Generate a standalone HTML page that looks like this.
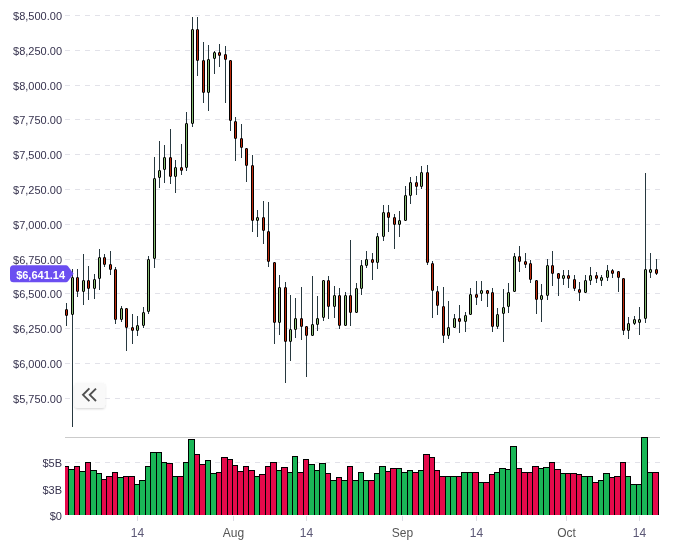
<!DOCTYPE html>
<html><head><meta charset="utf-8"><title>chart</title>
<style>
html,body{margin:0;padding:0;background:#ffffff;}
body{width:676px;height:548px;overflow:hidden;font-family:"Liberation Sans",sans-serif;}
svg{display:block;will-change:transform;}
</style></head><body>
<svg width="676" height="548" viewBox="0 0 676 548">
<line x1="65" y1="15.5" x2="660" y2="15.5" stroke="#e2e2e9" stroke-width="1" stroke-dasharray="5 5"/>
<line x1="65" y1="50.5" x2="660" y2="50.5" stroke="#e2e2e9" stroke-width="1" stroke-dasharray="5 5"/>
<line x1="65" y1="85.5" x2="660" y2="85.5" stroke="#e2e2e9" stroke-width="1" stroke-dasharray="5 5"/>
<line x1="65" y1="119.5" x2="660" y2="119.5" stroke="#e2e2e9" stroke-width="1" stroke-dasharray="5 5"/>
<line x1="65" y1="154.5" x2="660" y2="154.5" stroke="#e2e2e9" stroke-width="1" stroke-dasharray="5 5"/>
<line x1="65" y1="189.5" x2="660" y2="189.5" stroke="#e2e2e9" stroke-width="1" stroke-dasharray="5 5"/>
<line x1="65" y1="224.5" x2="660" y2="224.5" stroke="#e2e2e9" stroke-width="1" stroke-dasharray="5 5"/>
<line x1="65" y1="259.5" x2="660" y2="259.5" stroke="#e2e2e9" stroke-width="1" stroke-dasharray="5 5"/>
<line x1="65" y1="293.5" x2="660" y2="293.5" stroke="#e2e2e9" stroke-width="1" stroke-dasharray="5 5"/>
<line x1="65" y1="328.5" x2="660" y2="328.5" stroke="#e2e2e9" stroke-width="1" stroke-dasharray="5 5"/>
<line x1="65" y1="363.5" x2="660" y2="363.5" stroke="#e2e2e9" stroke-width="1" stroke-dasharray="5 5"/>
<line x1="65" y1="398.5" x2="660" y2="398.5" stroke="#e2e2e9" stroke-width="1" stroke-dasharray="5 5"/>
<line x1="65" y1="462.5" x2="660" y2="462.5" stroke="#e2e2e9" stroke-width="1" stroke-dasharray="5 5"/>
<line x1="65" y1="437.5" x2="660" y2="437.5" stroke="#cbcbcb" stroke-width="1"/>
<g font-family="Liberation Sans, sans-serif" font-size="11" fill="#36324e" text-anchor="end">
<text x="62" y="20">$8,500.00</text>
<text x="62" y="55">$8,250.00</text>
<text x="62" y="90">$8,000.00</text>
<text x="62" y="124">$7,750.00</text>
<text x="62" y="159">$7,500.00</text>
<text x="62" y="194">$7,250.00</text>
<text x="62" y="229">$7,000.00</text>
<text x="62" y="264">$6,750.00</text>
<text x="62" y="298">$6,500.00</text>
<text x="62" y="333">$6,250.00</text>
<text x="62" y="368">$6,000.00</text>
<text x="62" y="403">$5,750.00</text>
<text x="62" y="467">$5B</text>
<text x="62" y="494">$3B</text>
<text x="62" y="520">$0</text>
</g>
<rect x="137" y="516" width="1" height="5" fill="#dcdce4"/>
<rect x="233" y="516" width="1" height="5" fill="#dcdce4"/>
<rect x="306" y="516" width="1" height="5" fill="#dcdce4"/>
<rect x="402" y="516" width="1" height="5" fill="#dcdce4"/>
<rect x="476" y="516" width="1" height="5" fill="#dcdce4"/>
<rect x="566" y="516" width="1" height="5" fill="#dcdce4"/>
<rect x="639" y="516" width="1" height="5" fill="#dcdce4"/>
<g font-family="Liberation Sans, sans-serif" font-size="12" text-anchor="middle">
<text x="137.5" y="537" fill="#5b5775">14</text>
<text x="233.5" y="537" fill="#555555">Aug</text>
<text x="306.5" y="537" fill="#5b5775">14</text>
<text x="402.5" y="537" fill="#555555">Sep</text>
<text x="476.5" y="537" fill="#5b5775">14</text>
<text x="566.5" y="537" fill="#555555">Oct</text>
<text x="639.5" y="537" fill="#5b5775">14</text>
</g>
<g shape-rendering="crispEdges">
<rect x="65" y="466" width="4" height="49" fill="#000000"/>
<rect x="65" y="467" width="3" height="48" fill="#e50a4b"/>
<rect x="68" y="469" width="7" height="46" fill="#000000"/>
<rect x="69" y="470" width="5" height="45" fill="#1ab757"/>
<rect x="74" y="466" width="6" height="49" fill="#000000"/>
<rect x="75" y="467" width="4" height="48" fill="#e50a4b"/>
<rect x="79" y="471" width="7" height="44" fill="#000000"/>
<rect x="80" y="472" width="5" height="43" fill="#1ab757"/>
<rect x="85" y="462" width="6" height="53" fill="#000000"/>
<rect x="86" y="463" width="4" height="52" fill="#e50a4b"/>
<rect x="90" y="470" width="7" height="45" fill="#000000"/>
<rect x="91" y="471" width="5" height="44" fill="#1ab757"/>
<rect x="96" y="473" width="6" height="42" fill="#000000"/>
<rect x="97" y="474" width="4" height="41" fill="#1ab757"/>
<rect x="101" y="479" width="6" height="36" fill="#000000"/>
<rect x="102" y="480" width="4" height="35" fill="#e50a4b"/>
<rect x="106" y="476" width="7" height="39" fill="#000000"/>
<rect x="107" y="477" width="5" height="38" fill="#e50a4b"/>
<rect x="112" y="472" width="6" height="43" fill="#000000"/>
<rect x="113" y="473" width="4" height="42" fill="#e50a4b"/>
<rect x="117" y="477" width="7" height="38" fill="#000000"/>
<rect x="118" y="478" width="5" height="37" fill="#1ab757"/>
<rect x="123" y="476" width="6" height="39" fill="#000000"/>
<rect x="124" y="477" width="4" height="38" fill="#e50a4b"/>
<rect x="128" y="476" width="7" height="39" fill="#000000"/>
<rect x="129" y="477" width="5" height="38" fill="#e50a4b"/>
<rect x="134" y="484" width="6" height="31" fill="#000000"/>
<rect x="135" y="485" width="4" height="30" fill="#1ab757"/>
<rect x="139" y="480" width="7" height="35" fill="#000000"/>
<rect x="140" y="481" width="5" height="34" fill="#1ab757"/>
<rect x="145" y="466" width="6" height="49" fill="#000000"/>
<rect x="146" y="467" width="4" height="48" fill="#1ab757"/>
<rect x="150" y="452" width="7" height="63" fill="#000000"/>
<rect x="151" y="453" width="5" height="62" fill="#1ab757"/>
<rect x="156" y="452" width="6" height="63" fill="#000000"/>
<rect x="157" y="453" width="4" height="62" fill="#1ab757"/>
<rect x="161" y="462" width="6" height="53" fill="#000000"/>
<rect x="162" y="463" width="4" height="52" fill="#1ab757"/>
<rect x="166" y="463" width="7" height="52" fill="#000000"/>
<rect x="167" y="464" width="5" height="51" fill="#e50a4b"/>
<rect x="172" y="476" width="6" height="39" fill="#000000"/>
<rect x="173" y="477" width="4" height="38" fill="#1ab757"/>
<rect x="177" y="476" width="7" height="39" fill="#000000"/>
<rect x="178" y="477" width="5" height="38" fill="#e50a4b"/>
<rect x="183" y="462" width="6" height="53" fill="#000000"/>
<rect x="184" y="463" width="4" height="52" fill="#1ab757"/>
<rect x="188" y="439" width="7" height="76" fill="#000000"/>
<rect x="189" y="440" width="5" height="75" fill="#1ab757"/>
<rect x="194" y="454" width="6" height="61" fill="#000000"/>
<rect x="195" y="455" width="4" height="60" fill="#e50a4b"/>
<rect x="199" y="464" width="7" height="51" fill="#000000"/>
<rect x="200" y="465" width="5" height="50" fill="#e50a4b"/>
<rect x="205" y="460" width="6" height="55" fill="#000000"/>
<rect x="206" y="461" width="4" height="54" fill="#1ab757"/>
<rect x="210" y="473" width="7" height="42" fill="#000000"/>
<rect x="211" y="474" width="5" height="41" fill="#1ab757"/>
<rect x="216" y="472" width="6" height="43" fill="#000000"/>
<rect x="217" y="473" width="4" height="42" fill="#e50a4b"/>
<rect x="221" y="457" width="7" height="58" fill="#000000"/>
<rect x="222" y="458" width="5" height="57" fill="#e50a4b"/>
<rect x="227" y="459" width="6" height="56" fill="#000000"/>
<rect x="228" y="460" width="4" height="55" fill="#e50a4b"/>
<rect x="232" y="465" width="6" height="50" fill="#000000"/>
<rect x="233" y="466" width="4" height="49" fill="#e50a4b"/>
<rect x="237" y="471" width="7" height="44" fill="#000000"/>
<rect x="238" y="472" width="5" height="43" fill="#e50a4b"/>
<rect x="243" y="466" width="6" height="49" fill="#000000"/>
<rect x="244" y="467" width="4" height="48" fill="#e50a4b"/>
<rect x="248" y="470" width="7" height="45" fill="#000000"/>
<rect x="249" y="471" width="5" height="44" fill="#e50a4b"/>
<rect x="254" y="476" width="6" height="39" fill="#000000"/>
<rect x="255" y="477" width="4" height="38" fill="#1ab757"/>
<rect x="259" y="474" width="7" height="41" fill="#000000"/>
<rect x="260" y="475" width="5" height="40" fill="#e50a4b"/>
<rect x="265" y="466" width="6" height="49" fill="#000000"/>
<rect x="266" y="467" width="4" height="48" fill="#e50a4b"/>
<rect x="270" y="462" width="7" height="53" fill="#000000"/>
<rect x="271" y="463" width="5" height="52" fill="#e50a4b"/>
<rect x="276" y="470" width="6" height="45" fill="#000000"/>
<rect x="277" y="471" width="4" height="44" fill="#1ab757"/>
<rect x="281" y="467" width="7" height="48" fill="#000000"/>
<rect x="282" y="468" width="5" height="47" fill="#e50a4b"/>
<rect x="287" y="472" width="6" height="43" fill="#000000"/>
<rect x="288" y="473" width="4" height="42" fill="#1ab757"/>
<rect x="292" y="456" width="6" height="59" fill="#000000"/>
<rect x="293" y="457" width="4" height="58" fill="#1ab757"/>
<rect x="297" y="472" width="7" height="43" fill="#000000"/>
<rect x="298" y="473" width="5" height="42" fill="#e50a4b"/>
<rect x="303" y="459" width="6" height="56" fill="#000000"/>
<rect x="304" y="460" width="4" height="55" fill="#e50a4b"/>
<rect x="308" y="464" width="7" height="51" fill="#000000"/>
<rect x="309" y="465" width="5" height="50" fill="#1ab757"/>
<rect x="314" y="470" width="6" height="45" fill="#000000"/>
<rect x="315" y="471" width="4" height="44" fill="#1ab757"/>
<rect x="319" y="463" width="7" height="52" fill="#000000"/>
<rect x="320" y="464" width="5" height="51" fill="#1ab757"/>
<rect x="325" y="473" width="6" height="42" fill="#000000"/>
<rect x="326" y="474" width="4" height="41" fill="#e50a4b"/>
<rect x="330" y="480" width="7" height="35" fill="#000000"/>
<rect x="331" y="481" width="5" height="34" fill="#1ab757"/>
<rect x="336" y="477" width="6" height="38" fill="#000000"/>
<rect x="337" y="478" width="4" height="37" fill="#e50a4b"/>
<rect x="341" y="480" width="7" height="35" fill="#000000"/>
<rect x="342" y="481" width="5" height="34" fill="#1ab757"/>
<rect x="347" y="466" width="6" height="49" fill="#000000"/>
<rect x="348" y="467" width="4" height="48" fill="#e50a4b"/>
<rect x="352" y="480" width="7" height="35" fill="#000000"/>
<rect x="353" y="481" width="5" height="34" fill="#1ab757"/>
<rect x="358" y="472" width="6" height="43" fill="#000000"/>
<rect x="359" y="473" width="4" height="42" fill="#1ab757"/>
<rect x="363" y="480" width="6" height="35" fill="#000000"/>
<rect x="364" y="481" width="4" height="34" fill="#1ab757"/>
<rect x="368" y="480" width="7" height="35" fill="#000000"/>
<rect x="369" y="481" width="5" height="34" fill="#e50a4b"/>
<rect x="374" y="473" width="6" height="42" fill="#000000"/>
<rect x="375" y="474" width="4" height="41" fill="#1ab757"/>
<rect x="379" y="466" width="7" height="49" fill="#000000"/>
<rect x="380" y="467" width="5" height="48" fill="#1ab757"/>
<rect x="385" y="471" width="6" height="44" fill="#000000"/>
<rect x="386" y="472" width="4" height="43" fill="#e50a4b"/>
<rect x="390" y="468" width="7" height="47" fill="#000000"/>
<rect x="391" y="469" width="5" height="46" fill="#e50a4b"/>
<rect x="396" y="468" width="6" height="47" fill="#000000"/>
<rect x="397" y="469" width="4" height="46" fill="#1ab757"/>
<rect x="401" y="472" width="7" height="43" fill="#000000"/>
<rect x="402" y="473" width="5" height="42" fill="#1ab757"/>
<rect x="407" y="470" width="6" height="45" fill="#000000"/>
<rect x="408" y="471" width="4" height="44" fill="#1ab757"/>
<rect x="412" y="472" width="7" height="43" fill="#000000"/>
<rect x="413" y="473" width="5" height="42" fill="#e50a4b"/>
<rect x="418" y="470" width="6" height="45" fill="#000000"/>
<rect x="419" y="471" width="4" height="44" fill="#1ab757"/>
<rect x="423" y="454" width="7" height="61" fill="#000000"/>
<rect x="424" y="455" width="5" height="60" fill="#e50a4b"/>
<rect x="429" y="457" width="6" height="58" fill="#000000"/>
<rect x="430" y="458" width="4" height="57" fill="#e50a4b"/>
<rect x="434" y="470" width="6" height="45" fill="#000000"/>
<rect x="435" y="471" width="4" height="44" fill="#e50a4b"/>
<rect x="439" y="476" width="7" height="39" fill="#000000"/>
<rect x="440" y="477" width="5" height="38" fill="#e50a4b"/>
<rect x="445" y="476" width="6" height="39" fill="#000000"/>
<rect x="446" y="477" width="4" height="38" fill="#1ab757"/>
<rect x="450" y="476" width="7" height="39" fill="#000000"/>
<rect x="451" y="477" width="5" height="38" fill="#1ab757"/>
<rect x="456" y="476" width="6" height="39" fill="#000000"/>
<rect x="457" y="477" width="4" height="38" fill="#e50a4b"/>
<rect x="461" y="472" width="7" height="43" fill="#000000"/>
<rect x="462" y="473" width="5" height="42" fill="#1ab757"/>
<rect x="467" y="472" width="6" height="43" fill="#000000"/>
<rect x="468" y="473" width="4" height="42" fill="#1ab757"/>
<rect x="472" y="472" width="7" height="43" fill="#000000"/>
<rect x="473" y="473" width="5" height="42" fill="#e50a4b"/>
<rect x="478" y="482" width="6" height="33" fill="#000000"/>
<rect x="479" y="483" width="4" height="32" fill="#1ab757"/>
<rect x="483" y="482" width="7" height="33" fill="#000000"/>
<rect x="484" y="483" width="5" height="32" fill="#e50a4b"/>
<rect x="489" y="474" width="6" height="41" fill="#000000"/>
<rect x="490" y="475" width="4" height="40" fill="#e50a4b"/>
<rect x="494" y="472" width="6" height="43" fill="#000000"/>
<rect x="495" y="473" width="4" height="42" fill="#1ab757"/>
<rect x="499" y="468" width="7" height="47" fill="#000000"/>
<rect x="500" y="469" width="5" height="46" fill="#1ab757"/>
<rect x="505" y="469" width="6" height="46" fill="#000000"/>
<rect x="506" y="470" width="4" height="45" fill="#1ab757"/>
<rect x="510" y="446" width="7" height="69" fill="#000000"/>
<rect x="511" y="447" width="5" height="68" fill="#1ab757"/>
<rect x="516" y="468" width="6" height="47" fill="#000000"/>
<rect x="517" y="469" width="4" height="46" fill="#e50a4b"/>
<rect x="521" y="472" width="7" height="43" fill="#000000"/>
<rect x="522" y="473" width="5" height="42" fill="#e50a4b"/>
<rect x="527" y="472" width="6" height="43" fill="#000000"/>
<rect x="528" y="473" width="4" height="42" fill="#e50a4b"/>
<rect x="532" y="466" width="7" height="49" fill="#000000"/>
<rect x="533" y="467" width="5" height="48" fill="#e50a4b"/>
<rect x="538" y="468" width="6" height="47" fill="#000000"/>
<rect x="539" y="469" width="4" height="46" fill="#1ab757"/>
<rect x="543" y="467" width="7" height="48" fill="#000000"/>
<rect x="544" y="468" width="5" height="47" fill="#1ab757"/>
<rect x="549" y="462" width="6" height="53" fill="#000000"/>
<rect x="550" y="463" width="4" height="52" fill="#e50a4b"/>
<rect x="554" y="469" width="7" height="46" fill="#000000"/>
<rect x="555" y="470" width="5" height="45" fill="#e50a4b"/>
<rect x="560" y="473" width="6" height="42" fill="#000000"/>
<rect x="561" y="474" width="4" height="41" fill="#1ab757"/>
<rect x="565" y="473" width="6" height="42" fill="#000000"/>
<rect x="566" y="474" width="4" height="41" fill="#e50a4b"/>
<rect x="570" y="473" width="7" height="42" fill="#000000"/>
<rect x="571" y="474" width="5" height="41" fill="#e50a4b"/>
<rect x="576" y="474" width="6" height="41" fill="#000000"/>
<rect x="577" y="475" width="4" height="40" fill="#e50a4b"/>
<rect x="581" y="476" width="7" height="39" fill="#000000"/>
<rect x="582" y="477" width="5" height="38" fill="#1ab757"/>
<rect x="587" y="476" width="6" height="39" fill="#000000"/>
<rect x="588" y="477" width="4" height="38" fill="#1ab757"/>
<rect x="592" y="482" width="7" height="33" fill="#000000"/>
<rect x="593" y="483" width="5" height="32" fill="#e50a4b"/>
<rect x="598" y="480" width="6" height="35" fill="#000000"/>
<rect x="599" y="481" width="4" height="34" fill="#1ab757"/>
<rect x="603" y="473" width="7" height="42" fill="#000000"/>
<rect x="604" y="474" width="5" height="41" fill="#1ab757"/>
<rect x="609" y="477" width="6" height="38" fill="#000000"/>
<rect x="610" y="478" width="4" height="37" fill="#e50a4b"/>
<rect x="614" y="476" width="7" height="39" fill="#000000"/>
<rect x="615" y="477" width="5" height="38" fill="#e50a4b"/>
<rect x="620" y="462" width="6" height="53" fill="#000000"/>
<rect x="621" y="463" width="4" height="52" fill="#e50a4b"/>
<rect x="625" y="476" width="6" height="39" fill="#000000"/>
<rect x="626" y="477" width="4" height="38" fill="#1ab757"/>
<rect x="630" y="484" width="7" height="31" fill="#000000"/>
<rect x="631" y="485" width="5" height="30" fill="#1ab757"/>
<rect x="636" y="484" width="6" height="31" fill="#000000"/>
<rect x="637" y="485" width="4" height="30" fill="#1ab757"/>
<rect x="641" y="437" width="7" height="78" fill="#000000"/>
<rect x="642" y="438" width="5" height="77" fill="#1ab757"/>
<rect x="647" y="472" width="6" height="43" fill="#000000"/>
<rect x="648" y="473" width="4" height="42" fill="#1ab757"/>
<rect x="652" y="472" width="7" height="43" fill="#000000"/>
<rect x="653" y="473" width="5" height="42" fill="#e50a4b"/>
</g>
<g>
<rect x="66" y="303" width="1" height="23" fill="#27383f"/>
<rect x="65.5" y="309.5" width="2" height="6" rx="0.4" fill="#bc290a" stroke="#000000" stroke-width="1"/>
<rect x="72" y="269" width="1" height="158" fill="#27383f"/>
<rect x="71.5" y="277.5" width="2" height="37" rx="0.4" fill="#86bc72" stroke="#000000" stroke-width="1"/>
<rect x="77" y="269" width="1" height="28" fill="#27383f"/>
<rect x="76.5" y="277.5" width="2" height="14" rx="0.4" fill="#bc290a" stroke="#000000" stroke-width="1"/>
<rect x="83" y="254" width="1" height="51" fill="#27383f"/>
<rect x="82.5" y="280.5" width="2" height="11" rx="0.4" fill="#86bc72" stroke="#000000" stroke-width="1"/>
<rect x="88" y="266" width="1" height="34" fill="#27383f"/>
<rect x="87.5" y="280.5" width="2" height="8" rx="0.4" fill="#bc290a" stroke="#000000" stroke-width="1"/>
<rect x="94" y="274" width="1" height="25" fill="#27383f"/>
<rect x="93.5" y="279.5" width="2" height="9" rx="0.4" fill="#86bc72" stroke="#000000" stroke-width="1"/>
<rect x="99" y="249" width="1" height="41" fill="#27383f"/>
<rect x="98.5" y="257.5" width="2" height="21" rx="0.4" fill="#86bc72" stroke="#000000" stroke-width="1"/>
<rect x="104" y="254" width="1" height="13" fill="#27383f"/>
<rect x="103.5" y="257.5" width="2" height="7" rx="0.4" fill="#bc290a" stroke="#000000" stroke-width="1"/>
<rect x="110" y="251" width="1" height="24" fill="#27383f"/>
<rect x="109.5" y="264.5" width="2" height="5" rx="0.4" fill="#bc290a" stroke="#000000" stroke-width="1"/>
<rect x="115" y="267" width="1" height="57" fill="#27383f"/>
<rect x="114.5" y="269.5" width="2" height="50" rx="0.4" fill="#bc290a" stroke="#000000" stroke-width="1"/>
<rect x="121" y="306" width="1" height="16" fill="#27383f"/>
<rect x="120.5" y="308.5" width="2" height="11" rx="0.4" fill="#86bc72" stroke="#000000" stroke-width="1"/>
<rect x="126" y="308" width="1" height="43" fill="#27383f"/>
<rect x="125.5" y="308.5" width="2" height="19" rx="0.4" fill="#bc290a" stroke="#000000" stroke-width="1"/>
<rect x="132" y="314" width="1" height="30" fill="#27383f"/>
<rect x="131.5" y="327.5" width="2" height="3" rx="0.4" fill="#bc290a" stroke="#000000" stroke-width="1"/>
<rect x="137" y="316" width="1" height="20" fill="#27383f"/>
<rect x="136.5" y="325.5" width="2" height="5" rx="0.4" fill="#86bc72" stroke="#000000" stroke-width="1"/>
<rect x="143" y="307" width="1" height="21" fill="#27383f"/>
<rect x="142.5" y="312.5" width="2" height="13" rx="0.4" fill="#86bc72" stroke="#000000" stroke-width="1"/>
<rect x="148" y="256" width="1" height="58" fill="#27383f"/>
<rect x="147.5" y="259.5" width="2" height="52" rx="0.4" fill="#86bc72" stroke="#000000" stroke-width="1"/>
<rect x="154" y="157" width="1" height="111" fill="#27383f"/>
<rect x="153.5" y="178.5" width="2" height="80" rx="0.4" fill="#86bc72" stroke="#000000" stroke-width="1"/>
<rect x="159" y="141" width="1" height="47" fill="#27383f"/>
<rect x="158.5" y="170.5" width="2" height="7" rx="0.4" fill="#86bc72" stroke="#000000" stroke-width="1"/>
<rect x="164" y="145" width="1" height="38" fill="#27383f"/>
<rect x="163.5" y="157.5" width="2" height="12" rx="0.4" fill="#86bc72" stroke="#000000" stroke-width="1"/>
<rect x="170" y="129" width="1" height="55" fill="#27383f"/>
<rect x="169.5" y="157.5" width="2" height="19" rx="0.4" fill="#bc290a" stroke="#000000" stroke-width="1"/>
<rect x="175" y="160" width="1" height="33" fill="#27383f"/>
<rect x="174.5" y="167.5" width="2" height="9" rx="0.4" fill="#86bc72" stroke="#000000" stroke-width="1"/>
<rect x="181" y="144" width="1" height="31" fill="#27383f"/>
<rect x="180.5" y="167.5" width="2" height="3" rx="0.4" fill="#bc290a" stroke="#000000" stroke-width="1"/>
<rect x="186" y="112" width="1" height="59" fill="#27383f"/>
<rect x="185.5" y="123.5" width="2" height="44" rx="0.4" fill="#86bc72" stroke="#000000" stroke-width="1"/>
<rect x="192" y="17" width="1" height="110" fill="#27383f"/>
<rect x="191.5" y="29.5" width="2" height="94" rx="0.4" fill="#86bc72" stroke="#000000" stroke-width="1"/>
<rect x="197" y="17" width="1" height="59" fill="#27383f"/>
<rect x="196.5" y="29.5" width="2" height="31" rx="0.4" fill="#bc290a" stroke="#000000" stroke-width="1"/>
<rect x="203" y="42" width="1" height="61" fill="#27383f"/>
<rect x="202.5" y="60.5" width="2" height="32" rx="0.4" fill="#bc290a" stroke="#000000" stroke-width="1"/>
<rect x="208" y="45" width="1" height="66" fill="#27383f"/>
<rect x="207.5" y="59.5" width="2" height="33" rx="0.4" fill="#86bc72" stroke="#000000" stroke-width="1"/>
<rect x="214" y="51" width="1" height="23" fill="#27383f"/>
<rect x="213.5" y="52.5" width="2" height="6" rx="0.4" fill="#86bc72" stroke="#000000" stroke-width="1"/>
<rect x="219" y="44" width="1" height="23" fill="#27383f"/>
<rect x="218.5" y="52.5" width="2" height="3" rx="0.4" fill="#bc290a" stroke="#000000" stroke-width="1"/>
<rect x="225" y="46" width="1" height="57" fill="#27383f"/>
<rect x="224.5" y="54.5" width="2" height="5" rx="0.4" fill="#bc290a" stroke="#000000" stroke-width="1"/>
<rect x="230" y="60" width="1" height="71" fill="#27383f"/>
<rect x="229.5" y="60.5" width="2" height="60" rx="0.4" fill="#bc290a" stroke="#000000" stroke-width="1"/>
<rect x="235" y="117" width="1" height="44" fill="#27383f"/>
<rect x="234.5" y="121.5" width="2" height="17" rx="0.4" fill="#bc290a" stroke="#000000" stroke-width="1"/>
<rect x="241" y="124" width="1" height="34" fill="#27383f"/>
<rect x="240.5" y="138.5" width="2" height="9" rx="0.4" fill="#bc290a" stroke="#000000" stroke-width="1"/>
<rect x="246" y="148" width="1" height="34" fill="#27383f"/>
<rect x="245.5" y="148.5" width="2" height="17" rx="0.4" fill="#bc290a" stroke="#000000" stroke-width="1"/>
<rect x="252" y="155" width="1" height="77" fill="#27383f"/>
<rect x="251.5" y="165.5" width="2" height="55" rx="0.4" fill="#bc290a" stroke="#000000" stroke-width="1"/>
<rect x="257" y="210" width="1" height="27" fill="#27383f"/>
<rect x="256.5" y="217.5" width="2" height="3" rx="0.4" fill="#86bc72" stroke="#000000" stroke-width="1"/>
<rect x="263" y="201" width="1" height="43" fill="#27383f"/>
<rect x="262.5" y="217.5" width="2" height="13" rx="0.4" fill="#bc290a" stroke="#000000" stroke-width="1"/>
<rect x="268" y="202" width="1" height="65" fill="#27383f"/>
<rect x="267.5" y="231.5" width="2" height="30" rx="0.4" fill="#bc290a" stroke="#000000" stroke-width="1"/>
<rect x="274" y="262" width="1" height="82" fill="#27383f"/>
<rect x="273.5" y="262.5" width="2" height="60" rx="0.4" fill="#bc290a" stroke="#000000" stroke-width="1"/>
<rect x="279" y="275" width="1" height="60" fill="#27383f"/>
<rect x="278.5" y="287.5" width="2" height="35" rx="0.4" fill="#86bc72" stroke="#000000" stroke-width="1"/>
<rect x="285" y="282" width="1" height="101" fill="#27383f"/>
<rect x="284.5" y="287.5" width="2" height="54" rx="0.4" fill="#bc290a" stroke="#000000" stroke-width="1"/>
<rect x="290" y="295" width="1" height="66" fill="#27383f"/>
<rect x="289.5" y="329.5" width="2" height="12" rx="0.4" fill="#86bc72" stroke="#000000" stroke-width="1"/>
<rect x="295" y="298" width="1" height="40" fill="#27383f"/>
<rect x="294.5" y="318.5" width="2" height="11" rx="0.4" fill="#86bc72" stroke="#000000" stroke-width="1"/>
<rect x="301" y="287" width="1" height="53" fill="#27383f"/>
<rect x="300.5" y="318.5" width="2" height="8" rx="0.4" fill="#bc290a" stroke="#000000" stroke-width="1"/>
<rect x="306" y="326" width="1" height="51" fill="#27383f"/>
<rect x="305.5" y="326.5" width="2" height="9" rx="0.4" fill="#bc290a" stroke="#000000" stroke-width="1"/>
<rect x="312" y="276" width="1" height="60" fill="#27383f"/>
<rect x="311.5" y="324.5" width="2" height="11" rx="0.4" fill="#86bc72" stroke="#000000" stroke-width="1"/>
<rect x="317" y="296" width="1" height="35" fill="#27383f"/>
<rect x="316.5" y="318.5" width="2" height="6" rx="0.4" fill="#86bc72" stroke="#000000" stroke-width="1"/>
<rect x="323" y="280" width="1" height="41" fill="#27383f"/>
<rect x="322.5" y="280.5" width="2" height="37" rx="0.4" fill="#86bc72" stroke="#000000" stroke-width="1"/>
<rect x="328" y="276" width="1" height="43" fill="#27383f"/>
<rect x="327.5" y="280.5" width="2" height="26" rx="0.4" fill="#bc290a" stroke="#000000" stroke-width="1"/>
<rect x="334" y="286" width="1" height="32" fill="#27383f"/>
<rect x="333.5" y="295.5" width="2" height="11" rx="0.4" fill="#86bc72" stroke="#000000" stroke-width="1"/>
<rect x="339" y="288" width="1" height="41" fill="#27383f"/>
<rect x="338.5" y="295.5" width="2" height="30" rx="0.4" fill="#bc290a" stroke="#000000" stroke-width="1"/>
<rect x="345" y="292" width="1" height="34" fill="#27383f"/>
<rect x="344.5" y="295.5" width="2" height="30" rx="0.4" fill="#86bc72" stroke="#000000" stroke-width="1"/>
<rect x="350" y="240" width="1" height="86" fill="#27383f"/>
<rect x="349.5" y="295.5" width="2" height="17" rx="0.4" fill="#bc290a" stroke="#000000" stroke-width="1"/>
<rect x="356" y="283" width="1" height="30" fill="#27383f"/>
<rect x="355.5" y="288.5" width="2" height="24" rx="0.4" fill="#86bc72" stroke="#000000" stroke-width="1"/>
<rect x="361" y="260" width="1" height="35" fill="#27383f"/>
<rect x="360.5" y="265.5" width="2" height="23" rx="0.4" fill="#86bc72" stroke="#000000" stroke-width="1"/>
<rect x="366" y="251" width="1" height="17" fill="#27383f"/>
<rect x="365.5" y="259.5" width="2" height="6" rx="0.4" fill="#86bc72" stroke="#000000" stroke-width="1"/>
<rect x="372" y="253" width="1" height="27" fill="#27383f"/>
<rect x="371.5" y="259.5" width="2" height="3" rx="0.4" fill="#bc290a" stroke="#000000" stroke-width="1"/>
<rect x="377" y="233" width="1" height="36" fill="#27383f"/>
<rect x="376.5" y="236.5" width="2" height="26" rx="0.4" fill="#86bc72" stroke="#000000" stroke-width="1"/>
<rect x="383" y="205" width="1" height="36" fill="#27383f"/>
<rect x="382.5" y="212.5" width="2" height="24" rx="0.4" fill="#86bc72" stroke="#000000" stroke-width="1"/>
<rect x="388" y="205" width="1" height="27" fill="#27383f"/>
<rect x="387.5" y="212.5" width="2" height="5" rx="0.4" fill="#bc290a" stroke="#000000" stroke-width="1"/>
<rect x="394" y="214" width="1" height="35" fill="#27383f"/>
<rect x="393.5" y="217.5" width="2" height="7" rx="0.4" fill="#bc290a" stroke="#000000" stroke-width="1"/>
<rect x="399" y="211" width="1" height="26" fill="#27383f"/>
<rect x="398.5" y="220.5" width="2" height="4" rx="0.4" fill="#86bc72" stroke="#000000" stroke-width="1"/>
<rect x="405" y="186" width="1" height="35" fill="#27383f"/>
<rect x="404.5" y="195.5" width="2" height="25" rx="0.4" fill="#86bc72" stroke="#000000" stroke-width="1"/>
<rect x="410" y="177" width="1" height="27" fill="#27383f"/>
<rect x="409.5" y="182.5" width="2" height="13" rx="0.4" fill="#86bc72" stroke="#000000" stroke-width="1"/>
<rect x="416" y="176" width="1" height="19" fill="#27383f"/>
<rect x="415.5" y="182.5" width="2" height="4" rx="0.4" fill="#bc290a" stroke="#000000" stroke-width="1"/>
<rect x="421" y="166" width="1" height="23" fill="#27383f"/>
<rect x="420.5" y="172.5" width="2" height="14" rx="0.4" fill="#86bc72" stroke="#000000" stroke-width="1"/>
<rect x="427" y="165" width="1" height="100" fill="#27383f"/>
<rect x="426.5" y="172.5" width="2" height="90" rx="0.4" fill="#bc290a" stroke="#000000" stroke-width="1"/>
<rect x="432" y="261" width="1" height="57" fill="#27383f"/>
<rect x="431.5" y="263.5" width="2" height="27" rx="0.4" fill="#bc290a" stroke="#000000" stroke-width="1"/>
<rect x="437" y="286" width="1" height="29" fill="#27383f"/>
<rect x="436.5" y="291.5" width="2" height="14" rx="0.4" fill="#bc290a" stroke="#000000" stroke-width="1"/>
<rect x="443" y="287" width="1" height="56" fill="#27383f"/>
<rect x="442.5" y="306.5" width="2" height="29" rx="0.4" fill="#bc290a" stroke="#000000" stroke-width="1"/>
<rect x="448" y="301" width="1" height="38" fill="#27383f"/>
<rect x="447.5" y="327.5" width="2" height="8" rx="0.4" fill="#86bc72" stroke="#000000" stroke-width="1"/>
<rect x="454" y="314" width="1" height="14" fill="#27383f"/>
<rect x="453.5" y="318.5" width="2" height="9" rx="0.4" fill="#86bc72" stroke="#000000" stroke-width="1"/>
<rect x="459" y="305" width="1" height="28" fill="#27383f"/>
<rect x="458.5" y="318.5" width="2" height="3" rx="0.4" fill="#bc290a" stroke="#000000" stroke-width="1"/>
<rect x="465" y="312" width="1" height="20" fill="#27383f"/>
<rect x="464.5" y="315.5" width="2" height="6" rx="0.4" fill="#86bc72" stroke="#000000" stroke-width="1"/>
<rect x="470" y="288" width="1" height="27" fill="#27383f"/>
<rect x="469.5" y="294.5" width="2" height="20" rx="0.4" fill="#86bc72" stroke="#000000" stroke-width="1"/>
<rect x="476" y="281" width="1" height="24" fill="#27383f"/>
<rect x="475.5" y="294.5" width="2" height="3" rx="0.4" fill="#bc290a" stroke="#000000" stroke-width="1"/>
<rect x="481" y="281" width="1" height="20" fill="#27383f"/>
<rect x="480.5" y="290.5" width="2" height="3" rx="0.4" fill="#86bc72" stroke="#000000" stroke-width="1"/>
<rect x="487" y="290" width="1" height="17" fill="#27383f"/>
<rect x="486.5" y="290.5" width="2" height="3" rx="0.4" fill="#bc290a" stroke="#000000" stroke-width="1"/>
<rect x="492" y="288" width="1" height="44" fill="#27383f"/>
<rect x="491.5" y="292.5" width="2" height="34" rx="0.4" fill="#bc290a" stroke="#000000" stroke-width="1"/>
<rect x="497" y="308" width="1" height="21" fill="#27383f"/>
<rect x="496.5" y="314.5" width="2" height="12" rx="0.4" fill="#86bc72" stroke="#000000" stroke-width="1"/>
<rect x="503" y="289" width="1" height="53" fill="#27383f"/>
<rect x="502.5" y="307.5" width="2" height="6" rx="0.4" fill="#86bc72" stroke="#000000" stroke-width="1"/>
<rect x="508" y="283" width="1" height="30" fill="#27383f"/>
<rect x="507.5" y="292.5" width="2" height="14" rx="0.4" fill="#86bc72" stroke="#000000" stroke-width="1"/>
<rect x="514" y="253" width="1" height="39" fill="#27383f"/>
<rect x="513.5" y="256.5" width="2" height="35" rx="0.4" fill="#86bc72" stroke="#000000" stroke-width="1"/>
<rect x="519" y="246" width="1" height="26" fill="#27383f"/>
<rect x="518.5" y="256.5" width="2" height="5" rx="0.4" fill="#bc290a" stroke="#000000" stroke-width="1"/>
<rect x="525" y="253" width="1" height="15" fill="#27383f"/>
<rect x="524.5" y="261.5" width="2" height="3" rx="0.4" fill="#bc290a" stroke="#000000" stroke-width="1"/>
<rect x="530" y="260" width="1" height="23" fill="#27383f"/>
<rect x="529.5" y="263.5" width="2" height="16" rx="0.4" fill="#bc290a" stroke="#000000" stroke-width="1"/>
<rect x="536" y="280" width="1" height="34" fill="#27383f"/>
<rect x="535.5" y="280.5" width="2" height="19" rx="0.4" fill="#bc290a" stroke="#000000" stroke-width="1"/>
<rect x="541" y="284" width="1" height="38" fill="#27383f"/>
<rect x="540.5" y="295.5" width="2" height="4" rx="0.4" fill="#86bc72" stroke="#000000" stroke-width="1"/>
<rect x="547" y="259" width="1" height="41" fill="#27383f"/>
<rect x="546.5" y="265.5" width="2" height="30" rx="0.4" fill="#86bc72" stroke="#000000" stroke-width="1"/>
<rect x="552" y="251" width="1" height="35" fill="#27383f"/>
<rect x="551.5" y="265.5" width="2" height="8" rx="0.4" fill="#bc290a" stroke="#000000" stroke-width="1"/>
<rect x="558" y="273" width="1" height="23" fill="#27383f"/>
<rect x="557.5" y="273.5" width="2" height="5" rx="0.4" fill="#bc290a" stroke="#000000" stroke-width="1"/>
<rect x="563" y="270" width="1" height="15" fill="#27383f"/>
<rect x="562.5" y="275.5" width="2" height="3" rx="0.4" fill="#86bc72" stroke="#000000" stroke-width="1"/>
<rect x="568" y="270" width="1" height="18" fill="#27383f"/>
<rect x="567.5" y="275.5" width="2" height="3" rx="0.4" fill="#bc290a" stroke="#000000" stroke-width="1"/>
<rect x="574" y="275" width="1" height="16" fill="#27383f"/>
<rect x="573.5" y="279.5" width="2" height="9" rx="0.4" fill="#bc290a" stroke="#000000" stroke-width="1"/>
<rect x="579" y="282" width="1" height="19" fill="#27383f"/>
<rect x="578.5" y="289.5" width="2" height="3" rx="0.4" fill="#bc290a" stroke="#000000" stroke-width="1"/>
<rect x="585" y="275" width="1" height="18" fill="#27383f"/>
<rect x="584.5" y="280.5" width="2" height="12" rx="0.4" fill="#86bc72" stroke="#000000" stroke-width="1"/>
<rect x="590" y="267" width="1" height="18" fill="#27383f"/>
<rect x="589.5" y="275.5" width="2" height="5" rx="0.4" fill="#86bc72" stroke="#000000" stroke-width="1"/>
<rect x="596" y="272" width="1" height="11" fill="#27383f"/>
<rect x="595.5" y="275.5" width="2" height="3" rx="0.4" fill="#bc290a" stroke="#000000" stroke-width="1"/>
<rect x="601" y="275" width="1" height="11" fill="#27383f"/>
<rect x="600.5" y="277.5" width="2" height="3" rx="0.4" fill="#86bc72" stroke="#000000" stroke-width="1"/>
<rect x="607" y="265" width="1" height="16" fill="#27383f"/>
<rect x="606.5" y="270.5" width="2" height="7" rx="0.4" fill="#86bc72" stroke="#000000" stroke-width="1"/>
<rect x="612" y="269" width="1" height="9" fill="#27383f"/>
<rect x="611.5" y="270.5" width="2" height="3" rx="0.4" fill="#bc290a" stroke="#000000" stroke-width="1"/>
<rect x="618" y="271" width="1" height="21" fill="#27383f"/>
<rect x="617.5" y="271.5" width="2" height="6" rx="0.4" fill="#bc290a" stroke="#000000" stroke-width="1"/>
<rect x="623" y="278" width="1" height="57" fill="#27383f"/>
<rect x="622.5" y="278.5" width="2" height="52" rx="0.4" fill="#bc290a" stroke="#000000" stroke-width="1"/>
<rect x="628" y="317" width="1" height="22" fill="#27383f"/>
<rect x="627.5" y="323.5" width="2" height="7" rx="0.4" fill="#86bc72" stroke="#000000" stroke-width="1"/>
<rect x="634" y="316" width="1" height="9" fill="#27383f"/>
<rect x="633.5" y="319.5" width="2" height="4" rx="0.4" fill="#86bc72" stroke="#000000" stroke-width="1"/>
<rect x="639" y="307" width="1" height="28" fill="#27383f"/>
<rect x="638.5" y="319.5" width="2" height="3" rx="0.4" fill="#86bc72" stroke="#000000" stroke-width="1"/>
<rect x="645" y="173" width="1" height="150" fill="#27383f"/>
<rect x="644.5" y="269.5" width="2" height="49" rx="0.4" fill="#86bc72" stroke="#000000" stroke-width="1"/>
<rect x="650" y="253" width="1" height="25" fill="#27383f"/>
<rect x="649.5" y="269.5" width="2" height="3" rx="0.4" fill="#86bc72" stroke="#000000" stroke-width="1"/>
<rect x="656" y="259" width="1" height="16" fill="#27383f"/>
<rect x="655.5" y="269.5" width="2" height="4" rx="0.4" fill="#bc290a" stroke="#000000" stroke-width="1"/>
</g>
<path d="M13.5,265.3 H66 Q67.2,265.3 68,266.3 L73.6,273.8 L68,281.2 Q67.2,282.3 66,282.3 H13.5 Q10,282.3 10,278.8 V268.8 Q10,265.3 13.5,265.3 Z" fill="#6b4ef1"/>
<text x="40.6" y="279" font-family="Liberation Sans, sans-serif" font-size="11" font-weight="bold" fill="#ffffff" text-anchor="middle">$6,641.14</text>
<defs><filter id="sh" x="-20%" y="-20%" width="140%" height="160%"><feDropShadow dx="0" dy="1" stdDeviation="0.8" flood-color="#000" flood-opacity="0.18"/></filter></defs>
<rect x="74.5" y="382.8" width="30.6" height="25.2" rx="3.5" fill="#f9f9f9" filter="url(#sh)"/>
<path d="M89.4,388.4 L83.0,394.8 L89.4,401.2 M96.0,388.6 L89.8,394.8 L96.0,401.0" fill="none" stroke="#505050" stroke-width="1.9"/>
</svg>
</body></html>
